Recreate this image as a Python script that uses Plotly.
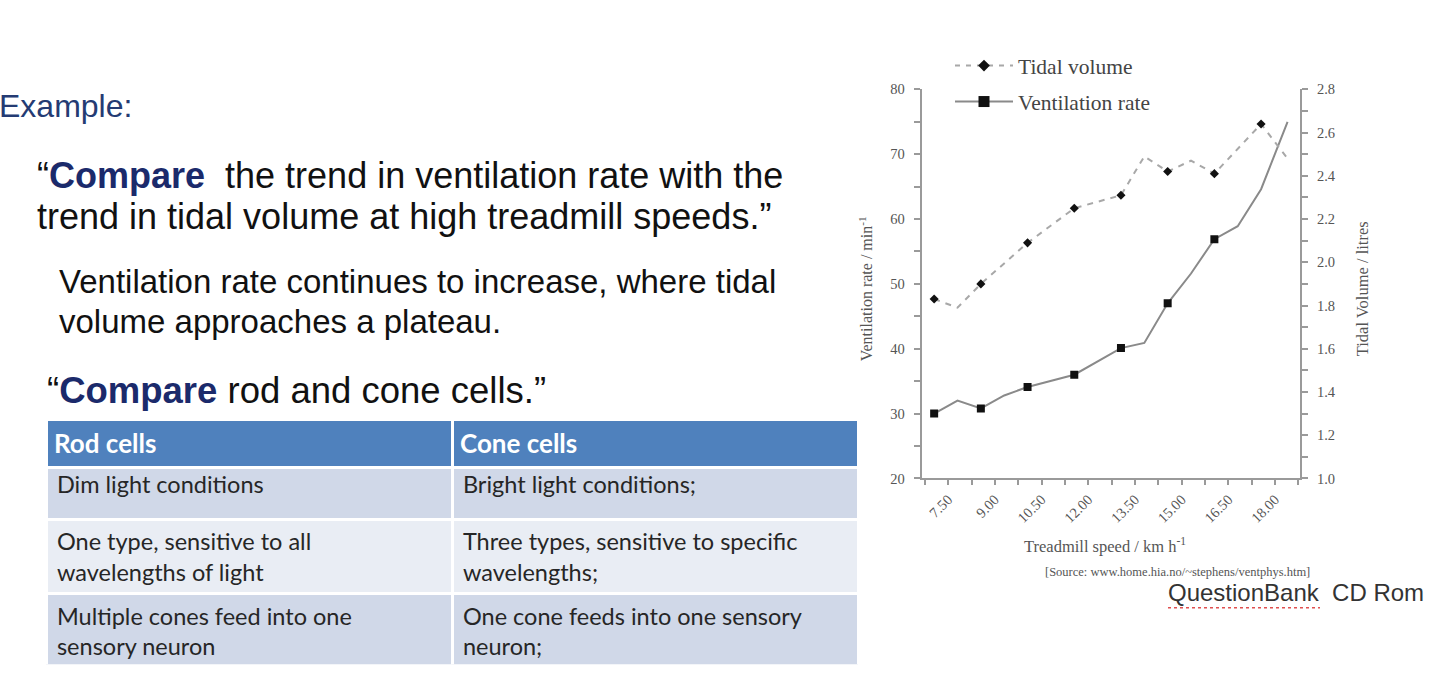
import plotly.graph_objects as go

W, H = 1440, 685

# ---------------- data ----------------
tidal_speed = [7.05, 7.8, 8.55, 10.05, 11.55, 13.05, 13.8, 14.55, 15.3, 16.05, 17.55, 18.4]
tidal_litres = [1.83, 1.79, 1.90, 2.09, 2.25, 2.31, 2.49, 2.42, 2.47, 2.41, 2.64, 2.48]
tidal_marked = [7.05, 8.55, 10.05, 11.55, 13.05, 14.55, 16.05, 17.55]

vent_speed = [7.05, 7.8, 8.55, 9.3, 10.05, 11.55, 13.05, 13.8, 14.55, 15.3, 16.05, 16.8, 17.55, 18.4]
vent_rate = [30.0, 32.0, 30.8, 32.8, 34.1, 36.0, 40.1, 40.9, 47.0, 51.6, 56.9, 58.9, 64.6, 75.0]
vent_marked = [7.05, 8.55, 10.05, 11.55, 13.05, 14.55, 16.05]

x_tick_start, x_tick_step = 7.5, 1.5

table_header = ["Rod cells", "Cone cells"]
rod_cells = ["Dim light conditions",
             "One type, sensitive to all<br>wavelengths of light",
             "Multiple cones feed into one<br>sensory neuron"]
cone_cells = ["Bright light conditions;",
              "Three types, sensitive to specific<br>wavelengths;",
              "One cone feeds into one sensory<br>neuron;"]

# ---------------- helpers ----------------
def px(x):
    return x / W

def py(y):
    return 1 - y / H

def pick(xs, ys, keep):
    pairs = [(a, b) for a, b in zip(xs, ys) if a in keep]
    return [p[0] for p in pairs], [p[1] for p in pairs]

def indent(cells):
    return ["\u2009" + c.replace("<br>", "<br>\u2009") for c in cells]

GREY_TXT = "#555555"
AXIS_COL = "#9a9a9a"
SERIF = "Liberation Serif"
SANS = "Liberation Sans"

fig = go.Figure()

# Tidal volume (right axis)
fig.add_trace(go.Scatter(x=tidal_speed, y=tidal_litres, mode="lines", yaxis="y2",
                         line=dict(color="#a8a8a8", width=2, dash="6px,6px"),
                         showlegend=False, hoverinfo="skip"))
tx, ty = pick(tidal_speed, tidal_litres, tidal_marked)
fig.add_trace(go.Scatter(x=tx, y=ty, mode="markers", yaxis="y2",
                         marker=dict(symbol="diamond", size=7, color="#111111"),
                         showlegend=False))

# Ventilation rate (left axis)
fig.add_trace(go.Scatter(x=vent_speed, y=vent_rate, mode="lines",
                         line=dict(color="#8a8a8a", width=2),
                         showlegend=False, hoverinfo="skip"))
vx, vy = pick(vent_speed, vent_rate, vent_marked)
fig.add_trace(go.Scatter(x=vx, y=vy, mode="markers",
                         marker=dict(symbol="square", size=8, color="#111111"),
                         showlegend=False))

# legend proxies
fig.add_trace(go.Scatter(x=[None], y=[None], mode="lines+markers", name="Tidal volume",
                         line=dict(color="#a8a8a8", width=2, dash="5px,6px"),
                         marker=dict(symbol="diamond", size=9, color="#111111"),
                         legendgroup="a"))
fig.add_trace(go.Scatter(x=[None], y=[None], mode="lines+markers", name="Ventilation rate",
                         line=dict(color="#8a8a8a", width=2),
                         marker=dict(symbol="square", size=11, color="#111111"),
                         legendgroup="b"))

# Table
fig.add_trace(go.Table(
    domain=dict(x=[px(46), px(858)], y=[py(672), py(421)]),
    columnwidth=[1, 1],
    header=dict(values=["<b>%s</b>" % h for h in table_header],
                fill_color="#4f81bd", align="left", height=44,
                line=dict(color="white", width=3),
                font=dict(family="Lato", size=26, color="white")),
    cells=dict(values=[indent(rod_cells), indent(cone_cells)],
               fill_color=[["#d0d8e8", "#e9edf4", "#d0d8e8"]] * 2,
               align="left", height=52,
               line=dict(color="white", width=3),
               font=dict(family="Lato", size=23.5, color="#262626")),
))

# ---------------- slide texts ----------------
NAVY = "#1b2a6b"
texts = [
    (-3, 100, "Example:", 32, "#243b73"),
    (35, 171, "“<b><span style='color:%s'>Compare</span></b>\u00a0 the trend in ventilation rate with the" % NAVY, 36, "#111111"),
    (35, 213, "trend in tidal volume at high treadmill speeds.”", 36, "#111111"),
    (57, 280, "Ventilation rate continues to increase, where tidal", 33, "#111111"),
    (57, 321, "volume approaches a plateau.", 33, "#111111"),
    (45, 392, "“<b><span style='color:%s'>Compare</span></b> rod and cone cells.”" % NAVY, 36.5, "#111111"),
    (1166, 598, "QuestionBank  CD Rom", 24, "#333333"),
]
for x, y, t, s, c in texts:
    fig.add_annotation(xref="paper", yref="paper", x=px(x), y=py(y), text=t,
                       showarrow=False, xanchor="left", yanchor="middle",
                       font=dict(family=SANS, size=s, color=c))

# spell-check squiggle under QuestionBank
fig.add_shape(type="line", xref="paper", yref="paper",
              x0=px(1168), x1=px(1320), y0=py(614), y1=py(614),
              line=dict(color="#e05050", width=1.5, dash="dot"))

# chart texts
chart_texts = [
    (1105, 550, "Treadmill speed / km h<sup>-1</sup>", 16.5, 0),
    (1177, 577, "[Source: www.home.hia.no/~stephens/ventphys.htm]", 12.5, 0),
    (866, 288, "Ventilation rate / min<sup>-1</sup>", 16, -90),
    (1362, 288, "Tidal Volume / litres", 16.5, -90),
]
for x, y, t, s, a in chart_texts:
    fig.add_annotation(xref="paper", yref="paper", x=px(x), y=py(y), text=t,
                       showarrow=False, xanchor="center", yanchor="middle", textangle=a,
                       font=dict(family=SERIF, size=s, color=GREY_TXT))

tickfont = dict(family=SERIF, size=14.5, color=GREY_TXT)
fig.update_layout(
    width=W, height=H, margin=dict(l=0, r=0, t=0, b=0),
    paper_bgcolor="white", plot_bgcolor="white",
    xaxis=dict(domain=[px(921.7), px(1300)], range=[6.65, 18.8], anchor="y",
               tick0=x_tick_start, dtick=x_tick_step, tickformat=".2f", tickangle=-45,
               ticks="outside", ticklen=5, tickcolor=AXIS_COL, tickwidth=1.5,
               minor=dict(dtick=x_tick_step / 2, tick0=x_tick_start, ticks="outside",
                          ticklen=5, tickcolor=AXIS_COL, tickwidth=1.5),
               showline=True, linecolor=AXIS_COL, linewidth=2, showgrid=False,
               zeroline=False, tickfont=tickfont),
    yaxis=dict(domain=[py(481.7), py(83.3)], range=[20, 80], dtick=10,
               ticks="outside", ticklen=6, tickcolor=AXIS_COL, tickwidth=1.5,
               ticklabelstandoff=6,
               minor=dict(dtick=5, ticks="outside", ticklen=6, tickcolor=AXIS_COL),
               showline=True, linecolor=AXIS_COL, linewidth=2, showgrid=False,
               zeroline=False, tickfont=tickfont),
    yaxis2=dict(overlaying="y", side="right", anchor="x", range=[1.0, 2.8], dtick=0.2,
                tickformat=".1f", ticks="outside", ticklen=6, tickcolor=AXIS_COL,
                tickwidth=1.5, ticklabelstandoff=6,
                minor=dict(dtick=0.1, ticks="outside", ticklen=6, tickcolor=AXIS_COL),
                showline=True, linecolor=AXIS_COL, linewidth=2, showgrid=False,
                zeroline=False, tickfont=tickfont),
    legend=dict(x=px(950), y=py(38), xanchor="left", yanchor="top",
                bgcolor="rgba(0,0,0,0)", traceorder="grouped", tracegroupgap=5,
                font=dict(family=SERIF, size=21.5, color="#444444"), itemwidth=58),
    showlegend=True,
)

fig.write_html("out.html", config={"displayModeBar": False},
               post_script="document.body.style.margin='0';document.body.style.overflow='hidden';")
